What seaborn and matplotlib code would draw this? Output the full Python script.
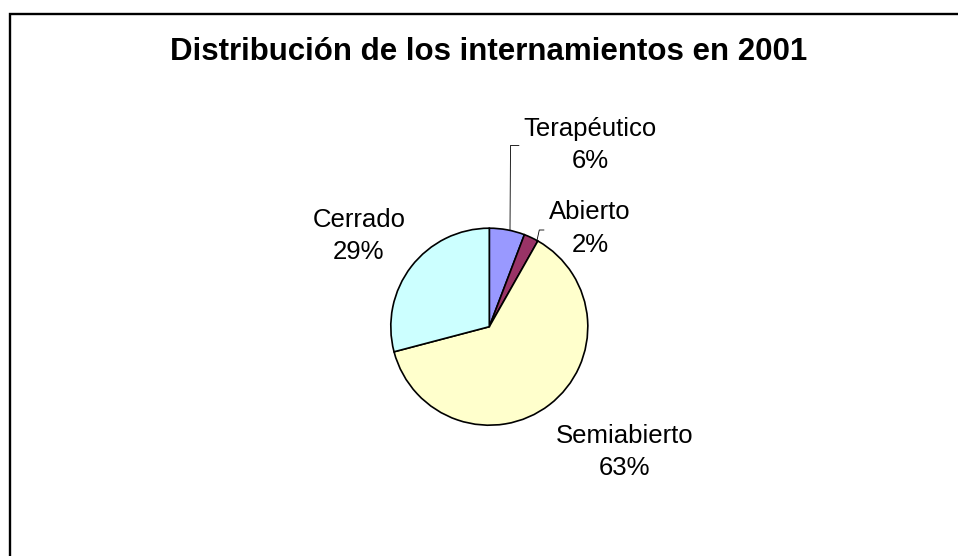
import matplotlib
matplotlib.use("Agg")
import matplotlib.pyplot as plt
import seaborn as sns
from matplotlib.patches import Rectangle

# datos del gráfico
categorias = ["Terapéutico", "Abierto", "Semiabierto", "Cerrado"]
porcentajes = [5.8, 2.4, 62.7, 29.1]
colores = ["#9999FF", "#993366", "#FFFFCC", "#CCFFFF"]
titulo = "Distribución de los internamientos en 2001"

sns.set_theme(style="white")
plt.rcParams["font.family"] = ["Liberation Sans", "DejaVu Sans"]
plt.rcParams["text.color"] = "black"

W, H = 958, 556
fig = plt.figure(figsize=(W / 100, H / 100), dpi=100)

# marco del área del gráfico (solo se ven borde izquierdo y superior)
fig.patches.append(Rectangle((10 / W, -0.1), 1.2, (H - 14) / H + 0.1,
                             transform=fig.transFigure, fill=False,
                             edgecolor="black", linewidth=1.7))

fig.text(489 / W, 1 - 52 / H, titulo, ha="center", va="center",
         fontsize=22.5, fontweight="bold", color="black")

# eje cuadrado centrado en el pastel (centro ~ (489, 327) px)
cx, cy, lado = 489.3, 326.7, 300
ax = fig.add_axes([(cx - lado / 2) / W, (H - cy - lado / 2) / H, lado / W, lado / H])
wedges, _ = ax.pie(porcentajes, colors=colores, startangle=90, counterclock=False,
                   radius=0.985, wedgeprops=dict(edgecolor="black", linewidth=1.2))
ax.set_xlim(-1.5, 1.5)
ax.set_ylim(-1.5, 1.5)
ax.set_aspect("equal")
ax.axis("off")

# posiciones de las etiquetas (px de la imagen)
pos_etiquetas = [(590, 145), (590, 228.5), (625, 452), (359, 236)]
for nombre, val, (px, py) in zip(categorias, porcentajes, pos_etiquetas):
    ax.text((px - cx) / 100, (cy - py) / 100, f"{nombre}\n{round(val):.0f}%",
            ha="center", va="center", fontsize=18.5, linespacing=1.45,
            color="black")

# líneas guía
ax.plot([(510 - cx) / 100, (510.5 - cx) / 100, (519 - cx) / 100],
        [(cy - 230) / 100, (cy - 145.5) / 100, (cy - 145.5) / 100],
        color="black", linewidth=0.6, clip_on=False)
ax.plot([(536.7 - cx) / 100, (539.3 - cx) / 100, (544 - cx) / 100],
        [(cy - 241.7) / 100, (cy - 230) / 100, (cy - 230) / 100],
        color="black", linewidth=0.6, clip_on=False)

fig.savefig("out.png", dpi=100)
